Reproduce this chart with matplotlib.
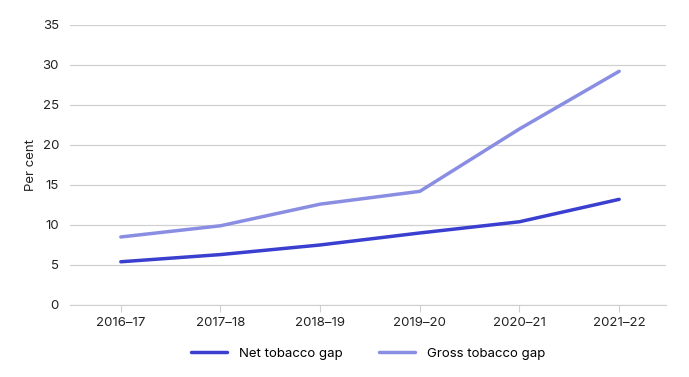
import matplotlib
matplotlib.use("Agg")
import matplotlib.pyplot as plt

years = ["2016–17", "2017–18", "2018–19", "2019–20", "2020–21", "2021–22"]
net_gap = [5.4, 6.3, 7.5, 9.0, 10.4, 13.2]
gross_gap = [8.5, 9.9, 12.6, 14.2, 22.0, 29.2]

plt.rcParams["font.family"] = ["Inter", "DejaVu Sans"]
plt.rcParams["font.size"] = 9.5

fig = plt.figure(figsize=(6.89, 3.77), dpi=100)
ax = fig.add_axes([0.1016, 0.191, 0.865, 0.743])

x = range(len(years))
ax.plot(x, net_gap, color="#3a3fcf", linewidth=2.5, label="Net tobacco gap",
        solid_capstyle="round", zorder=3)
ax.plot(x, gross_gap, color="#8a8ee3", linewidth=2.5, label="Gross tobacco gap",
        solid_capstyle="round", zorder=3)

ax.set_xlim(-0.51, 5.47)
ax.set_ylim(0, 35)
ax.set_yticks(range(0, 36, 5))
ax.set_xticks(list(x))
ax.set_xticklabels(years)
ax.grid(axis="y", color="#d0d0d0", linewidth=0.9)
ax.set_axisbelow(True)
for s in ["top", "right", "left"]:
    ax.spines[s].set_visible(False)
ax.spines["bottom"].set_color("#d0d0d0")
ax.tick_params(axis="y", length=0, pad=8, colors="#222222")
ax.tick_params(axis="x", length=5, color="#d0d0d0", pad=4, colors="#222222")
ax.set_ylabel("Per cent", labelpad=4, color="#222222")

ax.legend(loc="upper center", bbox_to_anchor=(0.5, -0.11), ncol=2, frameon=False,
          handlelength=2.7, columnspacing=2.8, handletextpad=0.9)

fig.savefig("out.png", dpi=100)
